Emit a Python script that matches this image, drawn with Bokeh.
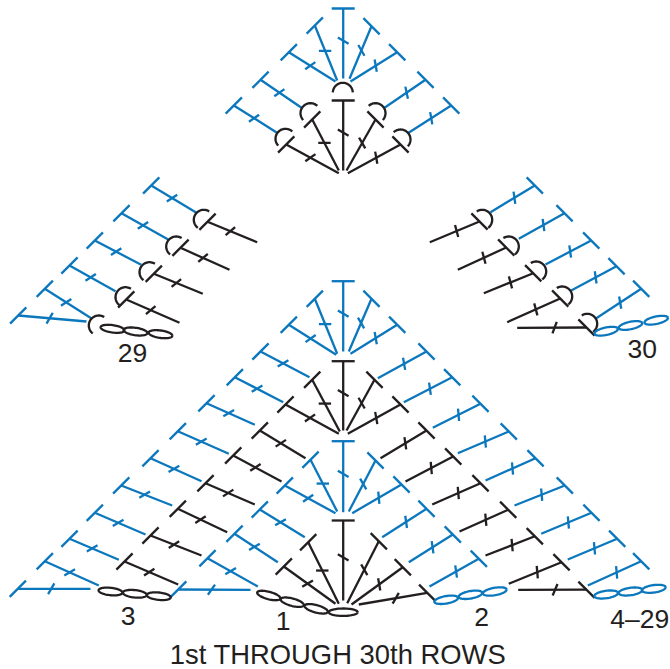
import numpy as np
from bokeh.plotting import figure
from bokeh.core.properties import value
from bokeh.embed import file_html
from bokeh.resources import INLINE

BLUE = "#0b77bd"
BLACK = "#231f20"

# stitches: foot x, foot y, head x, head y, tick slope in degrees
top_blue = [
    (342.7, 78, 342.7, 8, -30), (336.7, 80, 314.3, 25, 0), (335, 81, 288.3, 51.7, 35),
    (301, 107.3, 260, 79.3, 35), (277.3, 132.7, 233.3, 105, 35),
    (349, 78.3, 371, 25.7, -60), (350, 81, 396.7, 51.7, -80),
    (384, 107.3, 425, 79.3, -78), (407.3, 132.7, 450.7, 105, -80),
]
top_black = [
    (342.7, 170, 342.7, 100, -30), (338.3, 170, 311.7, 119, 0), (338.3, 172.7, 285.7, 144, 35),
    (346, 170, 375, 119, -60), (347.3, 172.7, 400, 144, -80),
]
left_blue = [
    (196, 212.3, 150.7, 185, 33), (167.7, 239, 121, 212.7, 33), (140.7, 264.3, 94.3, 240, 33),
    (115, 290.7, 69, 265, 33), (90.7, 317.7, 44.3, 288.3, 33), (86, 321, 17.7, 315, 60),
]
left_black = [
    (256.7, 241.7, 207, 221.3, 40), (229, 269.3, 180, 247.3, 40),
    (202.3, 293.3, 153.3, 273.3, 40), (179, 322.3, 125.7, 299, 40),
]
right_blue = [
    (490, 211.7, 534.3, 185, -82), (518.3, 238.3, 564, 212.7, -82), (545, 264, 590.7, 240, -82),
    (570.7, 290, 616, 265.7, -82), (595, 318.3, 640.7, 288.3, -80),
]
right_black = [
    (429.3, 241.7, 479, 221, -75), (457.3, 269.3, 505.7, 247, -75), (483.3, 292.7, 532.7, 272.7, -75),
    (506.7, 321.7, 559.7, 298, -75), (516.7, 327.3, 586, 327, 70),
]
main_blue = [
    (342.7, 351, 342.7, 280.7, -30), (336.7, 353.3, 314.3, 298.3, 0), (335.7, 354.3, 288.3, 324.3, 35),
    (348.3, 351, 371, 298.3, -60), (350, 353.3, 396.7, 324.3, -80),
    (309, 376.7, 260, 351, 30), (282.7, 401.7, 234.3, 376.7, 30), (254.3, 424.3, 206, 402.7, 30),
    (228.3, 453.3, 177.3, 430.7, 30), (201, 480.7, 150, 457.7, 30), (171.7, 505, 120.7, 485, 30),
    (145, 534, 94.3, 512.3, 30), (118.3, 559.3, 69, 538.3, 30), (98.3, 585, 44.3, 560.7, 30),
    (90, 588.3, 17.3, 588.3, 60),
    (377.3, 377.7, 426, 351, -80), (403.3, 401.7, 451.7, 376.7, -82), (432.3, 427.3, 480, 403.3, -85),
    (457.3, 452.7, 508.3, 431, -85), (485, 480, 535, 457.7, -85), (514, 505, 564.3, 485, -85),
    (540.7, 533.3, 591, 512.3, -85), (567.3, 559, 616.7, 538.3, -85), (587.3, 585, 640.7, 560.7, -85),
    (342.7, 511.7, 342.7, 440.7, -30), (336.7, 511, 310, 459.3, 0), (335, 512.7, 284.3, 485, 35),
    (304.3, 536.7, 259.3, 509, 30), (277.3, 561.7, 234, 533.3, 30), (257.3, 586, 207, 557.7, 30),
    (250, 589.3, 177.7, 589, 55),
    (348.3, 511, 375, 460, -60), (351.7, 512.7, 401, 484, -85), (381.7, 536.7, 426, 508.3, -82),
    (408.3, 561.7, 452.3, 534, -82), (429, 586, 478.3, 558.3, -82),
]
main_black = [
    (342.7, 430, 342.7, 360.7, -30), (339.3, 431, 311.7, 379.3, 0), (338.3, 433.3, 285, 404, 35),
    (346, 430, 374, 379.3, -60), (347.3, 433.3, 400, 404, -80),
    (305, 457.7, 259.3, 430, 33), (281, 481, 232.7, 455, 33), (254.3, 504, 205, 482.7, 33),
    (226.7, 531.7, 177.3, 508.3, 33), (201, 555, 150, 535, 33), (177.7, 584, 124, 561, 33),
    (380, 457.7, 426, 430, -82), (405, 481, 452.7, 456, -85), (431.7, 504, 480, 482.7, -85),
    (459, 531, 507.7, 509.3, -85), (485, 555, 534.3, 535.7, -85), (508.3, 583.3, 561, 561.7, -85),
    (517.7, 589.3, 586, 589.2, 67),
    (342.7, 600, 342.7, 520, -30), (338.3, 603.3, 307.7, 541.7, 0), (335, 603.3, 283.3, 566, 30),
    (346.7, 602.7, 378.3, 540.7, -60), (351, 604, 402.3, 566.7, -80), (358.3, 604, 426.7, 592.3, 60),
]

# half-round stitch caps: centre x, centre y, axis in degrees
arcs_black = [
    (342.3, 92.3, 90), (310, 112.7, 135), (285, 138.3, 135), (375, 112.7, 45), (400, 139, 45),
    (203.3, 219.3, 145), (175.7, 246, 145), (149, 271.7, 145), (125, 296.7, 145), (98.3, 325, 145),
    (481.7, 219.3, 35), (508.3, 246, 35), (535.7, 271, 35), (561.7, 296, 35), (586.7, 323.3, 35),
]

# chain links: centre x, centre y, long axis, slope in degrees
links_black = [
    (112, 328.3, 24, -8), (135, 331, 24, -8), (160, 333.7, 24, -8),
    (268.3, 595, 24, -15), (291.7, 601.7, 24, -15), (315.7, 608.3, 24, -15), (342.7, 611.7, 29, 0),
    (110, 591, 24, -6), (134.3, 593.3, 24, -6), (158.3, 595.7, 24, -6),
]
links_blue = [
    (605.7, 330.7, 24, 12), (630, 325, 24, 12), (655.7, 319.7, 24, 12),
    (445.7, 599.3, 24, 10), (470, 594.3, 24, 10), (494.3, 591, 24, 10),
    (605.7, 594, 24, 8), (630, 591, 24, 8), (653.3, 588.3, 24, 8),
]

labels = ["29", "30", "3", "1", "2", "4–29"]
label_x = [132, 641.7, 127.7, 282.7, 481, 639.3]
label_y = [352, 348.5, 615, 620, 616.5, 618.5]
title = ["1st THROUGH 30th ROWS"]
title_x = [337.5]
title_y = [653.5]

p = figure(width=670, height=669, x_range=(0, 670), y_range=(669, 0),
           toolbar_location=None, output_backend="svg", min_border=0,
           border_fill_color="white", outline_line_color=None)
p.axis.visible = False
p.grid.visible = False

BAR_HALF = 11.5
TICK_HALF = 6.2
TICK_AT = 0.54
LW = 2.3


def draw_stitches(rows, color):
    x0s, y0s, x1s, y1s = [], [], [], []
    for fx, fy, hx, hy, tick in rows:
        x0s.append(fx); y0s.append(fy); x1s.append(hx); y1s.append(hy)
        dx = hx - fx
        ang = 0.0 if abs(dx) < 1 else (45.0 if dx < 0 else -45.0)
        ca, sa = np.cos(np.radians(ang)), np.sin(np.radians(ang))
        x0s.append(hx - BAR_HALF * ca); y0s.append(hy + BAR_HALF * sa)
        x1s.append(hx + BAR_HALF * ca); y1s.append(hy - BAR_HALF * sa)
        cx, cy = fx + TICK_AT * (hx - fx), fy + TICK_AT * (hy - fy)
        ct, st = np.cos(np.radians(tick)), np.sin(np.radians(tick))
        x0s.append(cx - TICK_HALF * ct); y0s.append(cy + TICK_HALF * st)
        x1s.append(cx + TICK_HALF * ct); y1s.append(cy - TICK_HALF * st)
    p.segment(x0s, y0s, x1s, y1s, line_color=color, line_width=LW)


for rows, color in [(top_blue, BLUE), (top_black, BLACK), (left_blue, BLUE), (left_black, BLACK),
                    (right_blue, BLUE), (right_black, BLACK), (main_blue, BLUE), (main_black, BLACK)]:
    draw_stitches(rows, color)

R = 10.0
xs, ys = [], []
for cx, cy, axis in arcs_black:
    th = np.radians(np.linspace(axis - 88, axis + 88, 30))
    xs.append((cx + R * np.cos(th)).tolist())
    ys.append((cy - R * np.sin(th)).tolist())
p.multi_line(xs, ys, line_color=BLACK, line_width=LW)

for links, color in [(links_black, BLACK), (links_blue, BLUE)]:
    xs, ys = [], []
    for cx, cy, long_axis, slope in links:
        t = np.linspace(0, 2 * np.pi, 60)
        a, b = long_axis / 2, 3.7
        s = np.radians(slope)
        ex = a * np.cos(t)
        ey = b * np.sin(t)
        xs.append((cx + ex * np.cos(s) - ey * np.sin(s)).tolist())
        ys.append((cy - ex * np.sin(s) - ey * np.cos(s)).tolist())
    p.multi_line(xs, ys, line_color=color, line_width=LW)

p.text(label_x, label_y, text=labels, text_font=value("Liberation Sans"),
       text_font_size=value("26.5px"), text_color=BLACK, text_align="center", text_baseline="middle")
p.text(title_x, title_y, text=title, text_font=value("Liberation Sans"),
       text_font_size=value("27.4px"), text_color=BLACK, text_align="center", text_baseline="middle")

open("out.html", "w").write(file_html(p, INLINE))
